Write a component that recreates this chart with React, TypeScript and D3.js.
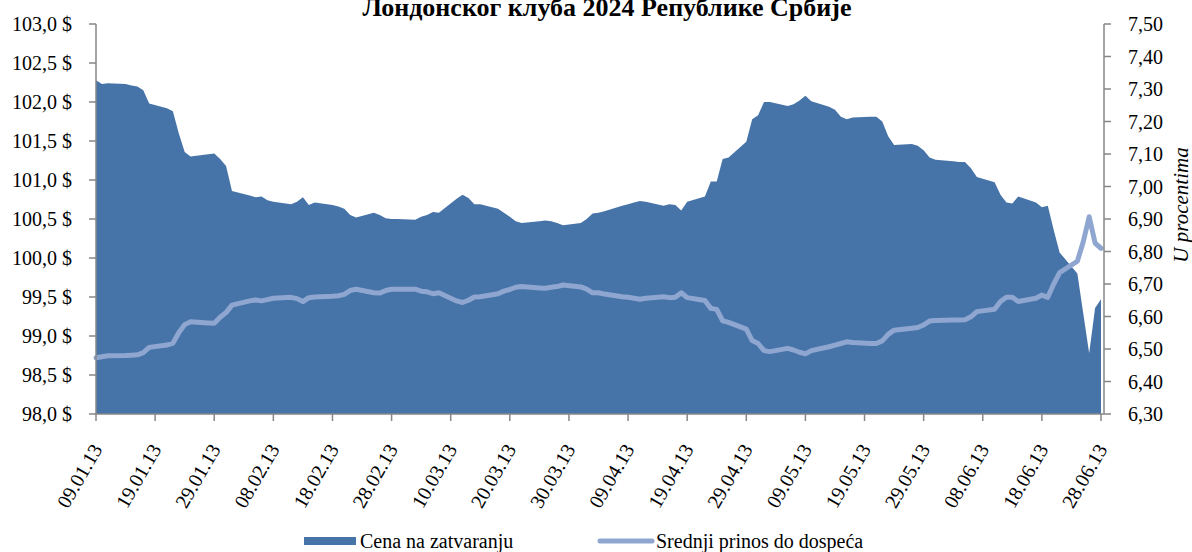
import * as d3 from 'd3'

const dates = [
  '2013-01-09', '2013-01-10', '2013-01-11', '2013-01-14', '2013-01-15', '2013-01-16', '2013-01-17', '2013-01-18',
  '2013-01-21', '2013-01-22', '2013-01-23', '2013-01-24', '2013-01-25', '2013-01-28', '2013-01-29', '2013-01-30',
  '2013-01-31', '2013-02-01', '2013-02-04', '2013-02-05', '2013-02-06', '2013-02-07', '2013-02-08', '2013-02-11',
  '2013-02-12', '2013-02-13', '2013-02-14', '2013-02-15', '2013-02-18', '2013-02-19', '2013-02-20', '2013-02-21',
  '2013-02-22', '2013-02-25', '2013-02-26', '2013-02-27', '2013-02-28', '2013-03-01', '2013-03-04', '2013-03-05',
  '2013-03-06', '2013-03-07', '2013-03-08', '2013-03-11', '2013-03-12', '2013-03-13', '2013-03-14', '2013-03-15',
  '2013-03-18', '2013-03-19', '2013-03-20', '2013-03-21', '2013-03-22', '2013-03-25', '2013-03-26', '2013-03-27',
  '2013-03-28', '2013-03-29', '2013-04-01', '2013-04-02', '2013-04-03', '2013-04-04', '2013-04-05', '2013-04-08',
  '2013-04-09', '2013-04-10', '2013-04-11', '2013-04-12', '2013-04-15', '2013-04-16', '2013-04-17', '2013-04-18',
  '2013-04-19', '2013-04-22', '2013-04-23', '2013-04-24', '2013-04-25', '2013-04-26', '2013-04-29', '2013-04-30',
  '2013-05-01', '2013-05-02', '2013-05-03', '2013-05-06', '2013-05-07', '2013-05-08', '2013-05-09', '2013-05-10',
  '2013-05-13', '2013-05-14', '2013-05-15', '2013-05-16', '2013-05-17', '2013-05-20', '2013-05-21', '2013-05-22',
  '2013-05-23', '2013-05-24', '2013-05-27', '2013-05-28', '2013-05-29', '2013-05-30', '2013-05-31', '2013-06-03',
  '2013-06-04', '2013-06-05', '2013-06-06', '2013-06-07', '2013-06-10', '2013-06-11', '2013-06-12', '2013-06-13',
  '2013-06-14', '2013-06-17', '2013-06-18', '2013-06-19', '2013-06-20', '2013-06-21', '2013-06-24', '2013-06-25',
  '2013-06-26', '2013-06-27', '2013-06-28',
]

// Cena na zatvaranju ($)
const price = [
  102.28, 102.23, 102.24, 102.23, 102.21, 102.2, 102.15, 101.98,
  101.92, 101.88, 101.6, 101.36, 101.3, 101.33, 101.34, 101.27,
  101.18, 100.86, 100.8, 100.78, 100.79, 100.74, 100.72, 100.69,
  100.72, 100.78, 100.68, 100.71, 100.68, 100.66, 100.63, 100.55,
  100.52, 100.58, 100.55, 100.51, 100.5, 100.5, 100.49, 100.53,
  100.55, 100.59, 100.58, 100.76, 100.81, 100.77, 100.69, 100.69,
  100.63, 100.58, 100.53, 100.47, 100.45, 100.47, 100.48, 100.47,
  100.45, 100.42, 100.45, 100.5, 100.57, 100.58, 100.6, 100.67,
  100.69, 100.71, 100.73, 100.72, 100.67, 100.69, 100.68, 100.61,
  100.72, 100.79, 100.98, 100.98, 101.27, 101.29, 101.49, 101.78,
  101.83, 102.0, 102.0, 101.95, 101.97, 102.02, 102.08, 102.01,
  101.94, 101.9, 101.81, 101.78, 101.8, 101.81, 101.81, 101.75,
  101.56, 101.45, 101.46, 101.44, 101.38, 101.29, 101.26, 101.24,
  101.23, 101.23, 101.15, 101.04, 100.97, 100.81, 100.71, 100.7,
  100.79, 100.71, 100.65, 100.67, 100.36, 100.07, 99.8, 99.29,
  98.78, 99.36, 99.47,
]

// Srednji prinos do dospeća (%)
const yieldPct = [
  6.473, 6.476, 6.479, 6.48, 6.481, 6.482, 6.489, 6.505,
  6.512, 6.518, 6.55, 6.575, 6.584, 6.58, 6.579, 6.598,
  6.612, 6.635, 6.648, 6.651, 6.648, 6.652, 6.656, 6.659,
  6.655, 6.646, 6.658, 6.66, 6.662, 6.664, 6.668, 6.68,
  6.684, 6.673, 6.672, 6.68, 6.684, 6.684, 6.684, 6.678,
  6.676, 6.67, 6.673, 6.648, 6.643, 6.65, 6.66, 6.661,
  6.67, 6.678, 6.683, 6.69, 6.692, 6.688, 6.687, 6.69,
  6.692, 6.697, 6.691, 6.684, 6.673, 6.673, 6.669, 6.661,
  6.659, 6.656, 6.653, 6.656, 6.661, 6.658, 6.659, 6.673,
  6.658, 6.649, 6.625, 6.622, 6.587, 6.582, 6.561, 6.526,
  6.517, 6.495, 6.492, 6.502, 6.497, 6.49, 6.485, 6.495,
  6.507, 6.512, 6.517, 6.522, 6.52, 6.517, 6.517, 6.525,
  6.545, 6.558, 6.564, 6.566, 6.574, 6.586, 6.588, 6.589,
  6.589, 6.59, 6.599, 6.615, 6.622, 6.646, 6.659, 6.659,
  6.646, 6.656, 6.666, 6.659, 6.7, 6.735, 6.77, 6.83,
  6.907, 6.826, 6.81,
]

const leftTicks = [98, 98.5, 99, 99.5, 100, 100.5, 101, 101.5, 102, 102.5, 103]
const rightTicks = [6.3, 6.4, 6.5, 6.6, 6.7, 6.8, 6.9, 7.0, 7.1, 7.2, 7.3, 7.4, 7.5]

const title = 'Лондонског клуба 2024 Републике Србије'
const seriesNames = ['Cena na zatvaranju', 'Srednji prinos do dospeća']

const W = 1192
const H = 552
const left = 96
const right = 1104
const top = 24
const bottom = 414
const font = '"Liberation Serif", "Times New Roman", serif'
const areaColor = '#4673a8'
const lineColor = '#8ea6d0'
const axisColor = '#878787'

const parse = d3.timeParse('%Y-%m-%d')

export default function App() {
  const data = dates.map((d, i) => ({ date: parse(d) as Date, p: price[i], y: yieldPct[i] }))
  const start = data[0].date
  const end = data[data.length - 1].date

  const x = d3.scaleTime().domain([start, end]).range([left, right - 3])
  const yL = d3.scaleLinear().domain([98, 103]).range([bottom, top])
  const yR = d3.scaleLinear().domain([6.3, 7.5]).range([bottom, top])

  const area = d3
    .area<any>()
    .x((d) => x(d.date))
    .y0(yL(98))
    .y1((d) => yL(d.p))

  const line = d3
    .line<any>()
    .x((d) => x(d.date))
    .y((d) => yR(d.y))

  const xTicks = d3.timeDay.range(start, d3.timeDay.offset(end, 1), 10)
  const fmtDate = d3.timeFormat('%d.%m.%y')

  return (
    <svg
      width={W}
      height={H}
      style={{ position: 'absolute', left: 0, top: 0, background: '#fff' }}
      fontFamily={font}
    >
      <text x={607} y={16} textAnchor="middle" fontSize={26} fontWeight="bold">
        {title}
      </text>

      <path d={area(data) ?? ''} fill={areaColor} />
      <path
        d={line(data) ?? ''}
        fill="none"
        stroke={lineColor}
        strokeWidth={5}
        strokeLinejoin="round"
        strokeLinecap="round"
      />

      {/* left axis */}
      <line x1={left} x2={left} y1={top} y2={bottom} stroke={axisColor} strokeWidth={1.5} />
      {leftTicks.map((t) => (
        <g key={t}>
          <line x1={left - 7} x2={left} y1={yL(t)} y2={yL(t)} stroke={axisColor} strokeWidth={1.5} />
          <text x={left - 24} y={yL(t)} dy="0.35em" textAnchor="end" fontSize={20}>
            {t.toFixed(1).replace('.', ',') + ' $'}
          </text>
        </g>
      ))}

      {/* right axis */}
      <line x1={right} x2={right} y1={top} y2={bottom} stroke={axisColor} strokeWidth={1.5} />
      {rightTicks.map((t) => (
        <g key={t}>
          <line x1={right} x2={right + 7} y1={yR(t)} y2={yR(t)} stroke={axisColor} strokeWidth={1.5} />
          <text x={right + 24} y={yR(t)} dy="0.35em" textAnchor="start" fontSize={20}>
            {t.toFixed(2).replace('.', ',')}
          </text>
        </g>
      ))}
      <text
        transform={`translate(1188,205) rotate(-90)`}
        textAnchor="middle"
        fontSize={21}
        fontStyle="italic"
      >
        U procentima
      </text>

      {/* bottom axis */}
      <line x1={left} x2={right} y1={bottom} y2={bottom} stroke={axisColor} strokeWidth={1.5} />
      {xTicks.map((t) => (
        <g key={+t}>
          <line x1={x(t)} x2={x(t)} y1={bottom} y2={bottom + 7} stroke={axisColor} strokeWidth={1.5} />
          <text
            transform={`translate(${x(t) + 7},${bottom + 35}) rotate(-60)`}
            textAnchor="end"
            fontSize={20}
          >
            {fmtDate(t)}
          </text>
        </g>
      ))}

      {/* legend */}
      <rect x={304} y={537} width={52} height={8} fill={areaColor} />
      <text x={360} y={548} fontSize={20}>
        {seriesNames[0]}
      </text>
      <line x1={600} x2={652} y1={541} y2={541} stroke={lineColor} strokeWidth={5} strokeLinecap="round" />
      <text x={656} y={548} fontSize={20}>
        {seriesNames[1]}
      </text>
    </svg>
  )
}
